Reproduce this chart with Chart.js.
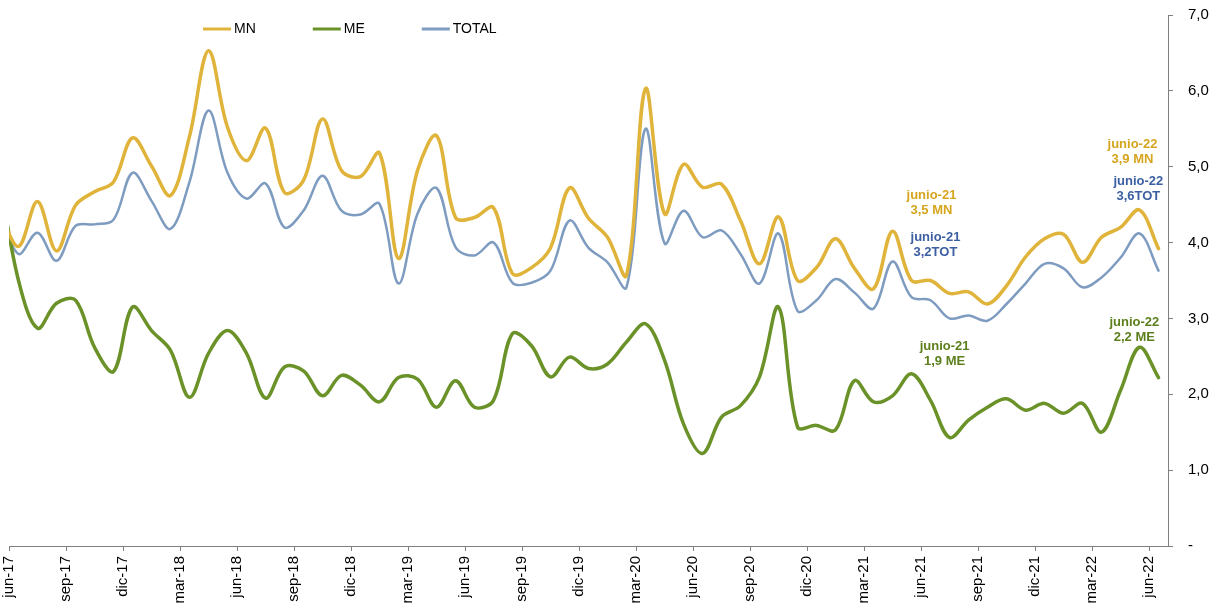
<!DOCTYPE html>
<html lang="es">
<head>
    <meta charset="UTF-8">
    <title>MN / ME / TOTAL</title>
    <script src="https://cdn.jsdelivr.net/npm/chart.js"></script>
    <style>
        html, body { margin: 0; padding: 0; background: #fff; }
        canvas { display: block; }
    </style>
</head>
<body>
    <canvas id="chart" width="1218" height="610"></canvas>

    <script>
        // monthly series, may-17 .. jun-22 (may-17 only sits behind the left edge)
        const months = [
            "may-17", "jun-17", "jul-17", "ago-17", "sep-17", "oct-17", "nov-17", "dic-17",
            "ene-18", "feb-18", "mar-18", "abr-18", "may-18", "jun-18", "jul-18", "ago-18", "sep-18", "oct-18", "nov-18", "dic-18",
            "ene-19", "feb-19", "mar-19", "abr-19", "may-19", "jun-19", "jul-19", "ago-19", "sep-19", "oct-19", "nov-19", "dic-19",
            "ene-20", "feb-20", "mar-20", "abr-20", "may-20", "jun-20", "jul-20", "ago-20", "sep-20", "oct-20", "nov-20", "dic-20",
            "ene-21", "feb-21", "mar-21", "abr-21", "may-21", "jun-21", "jul-21", "ago-21", "sep-21", "oct-21", "nov-21", "dic-21",
            "ene-22", "feb-22", "mar-22", "abr-22", "may-22", "jun-22"
        ];

        const mn = [4.40, 3.95, 4.54, 3.89, 4.49, 4.67, 4.80, 5.38, 5.01, 4.62, 5.40, 6.53, 5.52, 5.08, 5.51, 4.66,
            4.82, 5.63, 4.95, 4.87, 5.18, 3.79, 4.95, 5.41, 4.33, 4.33, 4.46, 3.59, 3.67, 3.93, 4.72, 4.32,
            4.07, 3.57, 6.03, 4.38, 5.03, 4.73, 4.77, 4.29, 3.72, 4.34, 3.50, 3.67, 4.05, 3.66, 3.39, 4.15,
            3.50, 3.50, 3.33, 3.35, 3.19, 3.43, 3.81, 4.05, 4.11, 3.74, 4.07, 4.20, 4.43, 3.92];

        const me = [4.85, 3.50, 2.87, 3.20, 3.24, 2.62, 2.30, 3.15, 2.84, 2.58, 1.96, 2.54, 2.84, 2.54, 1.95, 2.36,
            2.31, 1.98, 2.25, 2.12, 1.90, 2.22, 2.20, 1.83, 2.18, 1.83, 1.92, 2.80, 2.64, 2.23, 2.49, 2.34,
            2.40, 2.69, 2.93, 2.45, 1.61, 1.22, 1.70, 1.85, 2.23, 3.15, 1.57, 1.59, 1.53, 2.18, 1.90, 1.98,
            2.27, 1.92, 1.43, 1.66, 1.83, 1.94, 1.79, 1.88, 1.75, 1.88, 1.50, 2.05, 2.62, 2.22];

        const total = [4.45, 3.85, 4.13, 3.76, 4.22, 4.24, 4.30, 4.92, 4.55, 4.18, 4.80, 5.74, 4.92, 4.58, 4.78, 4.20,
            4.42, 4.88, 4.42, 4.37, 4.51, 3.46, 4.38, 4.72, 3.94, 3.83, 4.00, 3.47, 3.47, 3.63, 4.29, 3.93,
            3.74, 3.41, 5.50, 3.99, 4.42, 4.07, 4.16, 3.85, 3.46, 4.12, 3.10, 3.24, 3.52, 3.34, 3.13, 3.75,
            3.28, 3.24, 3.00, 3.04, 2.97, 3.19, 3.46, 3.72, 3.66, 3.41, 3.54, 3.80, 4.12, 3.63];

        // quarterly axis labels (jun-17 = 0)
        const tickLabels = ["jun-17", "sep-17", "dic-17", "mar-18", "jun-18", "sep-18", "dic-18",
            "mar-19", "jun-19", "sep-19", "dic-19", "mar-20", "jun-20", "sep-20", "dic-20",
            "mar-21", "jun-21", "sep-21", "dic-21", "mar-22", "jun-22"];

        const FONT = '"Liberation Sans", Arial, sans-serif';
        const GOLD = "#E0B43A";
        const GREEN = "#6A9228";
        const STEEL = "#7E9BC0";

        // callouts: x in months from jun-17, y in axis units
        const notes = [
            { x: 48.55, y: 4.62, color: "#D6A51E", text: ["junio-21", "3,5 MN"] },
            { x: 48.76, y: 4.07, color: "#3C5FA2", text: ["junio-21", "3,2TOT"] },
            { x: 49.24, y: 2.63, color: "#5C7F1C", text: ["junio-21", "1,9 ME"] },
            { x: 59.13, y: 5.29, color: "#D6A51E", text: ["junio-22", "3,9 MN"] },
            { x: 59.44, y: 4.80, color: "#3C5FA2", text: ["junio-22", "3,6TOT"] },
            { x: 59.23, y: 2.95, color: "#5C7F1C", text: ["junio-22", "2,2 ME"] }
        ];

        // each monthly value sits in the middle of its month
        const toPoints = arr => arr.map((v, i) => ({ x: i - 0.5, y: v }));

        const overlay = {
            id: "overlay",
            afterDatasetsDraw(chart, args, opts) {
                const { ctx, scales } = chart;
                ctx.save();

                // legend row
                ctx.font = "14px " + FONT;
                ctx.textBaseline = "middle";
                ctx.textAlign = "left";
                let lx = opts.legendX;
                chart.data.datasets.forEach(ds => {
                    ctx.strokeStyle = ds.borderColor;
                    ctx.lineWidth = 3;
                    ctx.beginPath();
                    ctx.moveTo(lx, opts.legendY);
                    ctx.lineTo(lx + 28, opts.legendY);
                    ctx.stroke();
                    ctx.fillStyle = "#000";
                    ctx.fillText(ds.label, lx + 31, opts.legendY);
                    lx += 31 + ctx.measureText(ds.label).width + 57;
                });

                // callout labels
                ctx.font = "bold 13px " + FONT;
                ctx.textAlign = "center";
                notes.forEach(n => {
                    const px = scales.x.getPixelForValue(n.x);
                    const py = scales.y.getPixelForValue(n.y);
                    ctx.fillStyle = n.color;
                    n.text.forEach((t, i) => ctx.fillText(t, px, py + i * 15));
                });
                ctx.restore();
            }
        };

        new Chart(document.getElementById("chart"), {
            type: "line",
            data: {
                datasets: [
                    { label: "MN", data: toPoints(mn), borderColor: GOLD, borderWidth: 3.5 },
                    { label: "ME", data: toPoints(me), borderColor: GREEN, borderWidth: 3.5 },
                    { label: "TOTAL", data: toPoints(total), borderColor: STEEL, borderWidth: 2.5 }
                ]
            },
            options: {
                responsive: false,
                devicePixelRatio: 1,
                animation: false,
                layout: { padding: { left: 9, top: 15, right: 0, bottom: 0 } },
                elements: {
                    point: { radius: 0 },
                    line: { tension: 0.35, fill: false, borderCapStyle: "round", borderJoinStyle: "round" }
                },
                plugins: {
                    legend: { display: false },
                    tooltip: { enabled: false },
                    overlay: { legendX: 203, legendY: 29 }
                },
                scales: {
                    x: {
                        type: "linear",
                        min: 0,
                        max: 61,
                        afterBuildTicks: s => { s.ticks = tickLabels.map((_, i) => ({ value: i * 3 })); },
                        afterFit: s => { s.height = 64; },
                        grid: { drawOnChartArea: false, tickLength: 5, color: "#7f7f7f" },
                        border: { color: "#7f7f7f" },
                        ticks: {
                            autoSkip: false,
                            minRotation: 90,
                            maxRotation: 90,
                            padding: 5,
                            color: "#000",
                            font: { family: FONT, size: 15 },
                            callback: v => tickLabels[Math.round(v / 3)]
                        }
                    },
                    y: {
                        position: "right",
                        min: 0,
                        max: 7,
                        // fixed width; the wide label padding should not push the plot down
                        afterFit: s => { s.width = 50; s.paddingTop = 0; s.paddingBottom = 0; },
                        grid: { drawOnChartArea: false, tickLength: 5, color: "#7f7f7f" },
                        border: { color: "#7f7f7f" },
                        ticks: {
                            stepSize: 1,
                            padding: 15,
                            color: "#000",
                            font: { family: FONT, size: 15 },
                            callback: v => v === 0 ? "-" : v.toFixed(1).replace(".", ",")
                        }
                    }
                }
            },
            plugins: [overlay]
        });
    </script>
</body>
</html>
